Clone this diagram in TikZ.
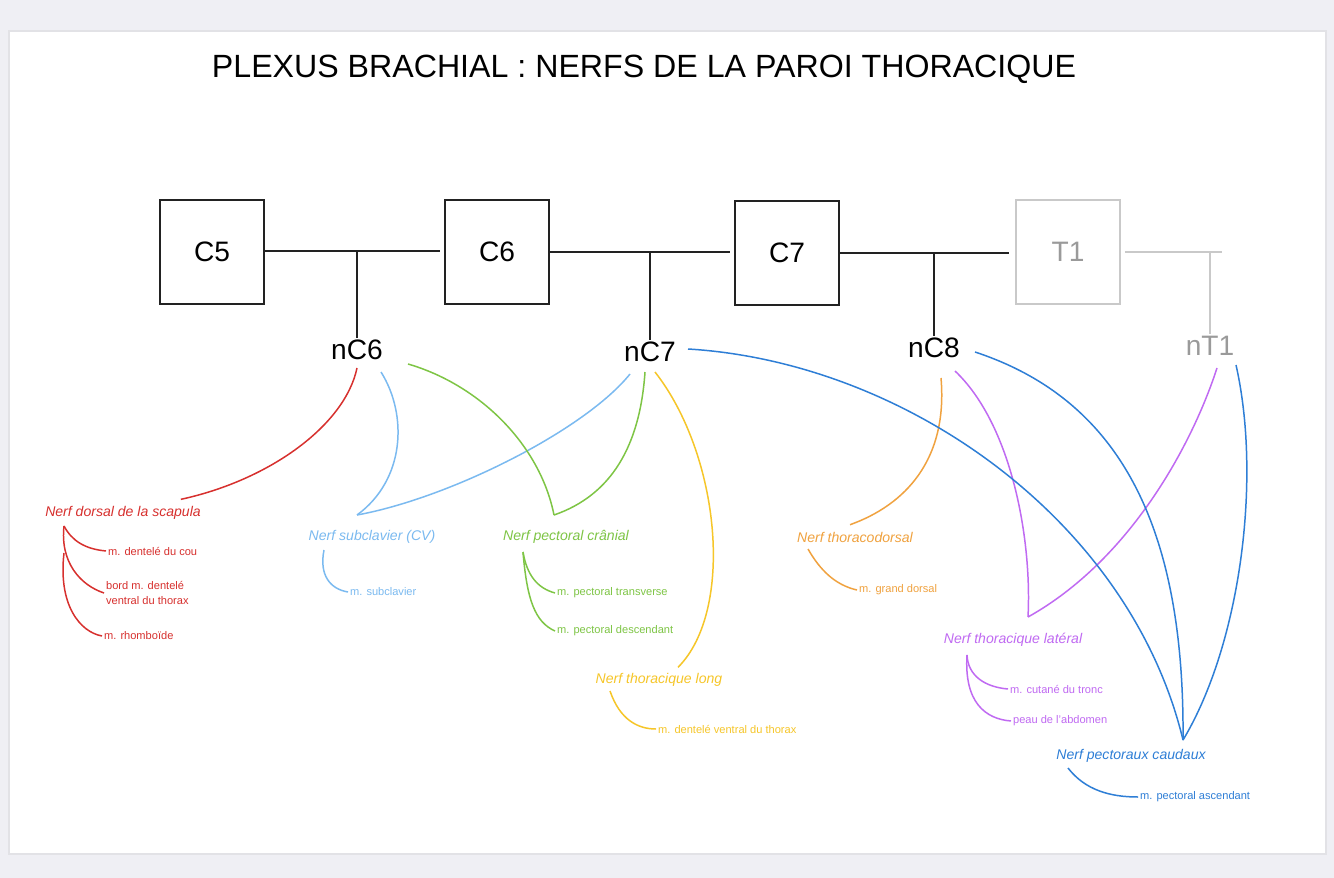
\documentclass[tikz,border=0pt]{standalone}
\usepackage{fontspec}
\setmainfont{Liberation Sans}
\usepackage{tikz}
\usetikzlibrary{calc}
\definecolor{Paper}{HTML}{EFEFF4}
\definecolor{Edge}{HTML}{E2E2E6}
\definecolor{Ink}{HTML}{222222}
\definecolor{Faded}{HTML}{C9C9C9}
\definecolor{FadedText}{HTML}{9A9A9A}
\definecolor{Dorsal}{HTML}{D7302E}
\definecolor{Subcl}{HTML}{7BBAF0}
\definecolor{Crani}{HTML}{7EC545}
\definecolor{Long}{HTML}{F6C629}
\definecolor{Thdors}{HTML}{F0A23F}
\definecolor{Lateral}{HTML}{C06AF2}
\definecolor{Caudal}{HTML}{2E7ED6}
\tikzset{
 vert/.style={draw=Ink, line width=1.1pt, minimum width=104*0.567pt, minimum height=104*0.567pt, font=\fontsize{16}{18}\selectfont},
 root/.style={font=\fontsize{16}{18}\selectfont, inner sep=1pt},
 trunk/.style={draw=Ink, line width=1.1pt},
 nerf/.style={font=\fontsize{8}{9.5}\selectfont\itshape, inner sep=1pt},
 muscle/.style={font=\fontsize{6.3}{8}\selectfont, anchor=west, inner sep=1pt, align=left},
 branch/.style={line width=0.85pt}
}
\begin{document}
\begin{tikzpicture}[x=0.02cm,y=-0.02cm]
\useasboundingbox (0,0) rectangle (1334,878);
\fill[Paper] (0,0) rectangle (1334,878);
\filldraw[fill=white,draw=Edge,line width=0.8pt] (9,31) rectangle (1326,854);

\node[font=\fontsize{18.3}{21}\selectfont] (title) at (644,69) {PLEXUS BRACHIAL : NERFS DE LA PAROI THORACIQUE};

% vertebres
\node[vert] (C5) at (212,252) {C5};
\node[vert] (C6) at (497,252) {C6};
\node[vert] (C7) at (787,253) {C7};
\node[vert,draw=Faded,text=FadedText] (T1) at (1068,252) {T1};

\node[root] (nC6) at (357,350) {nC6};
\node[root] (nC7) at (650,352) {nC7};
\node[root] (nC8) at (934,348) {nC8};
\node[root,text=FadedText] (nT1) at (1210,346) {nT1};

\coordinate (j6) at (357,251);
\coordinate (j7) at (650,252);
\coordinate (j8) at (934,253);
\coordinate (jT) at (1210,252);
\coordinate (endT) at (1222,252);

\draw[trunk] (C5.east |- j6) -- ($(C6.west |- j6)+(-4,0)$);
\draw[trunk] (C6.east |- j7) -- ($(C7.west |- j7)+(-4,0)$);
\draw[trunk] (C7.east |- j8) -- ($(T1.west |- j8)+(-6,0)$);
\draw[draw=Faded,line width=1.1pt] ($(T1.east |- endT)+(4,0)$) -- (endT);
\draw[trunk] (j6) -- (nC6);
\draw[trunk] (j7) -- (nC7);
\draw[trunk] (j8) -- (nC8);
\draw[draw=Faded,line width=1.1pt] (jT) -- (nT1);

% nerfs
\node[nerf,text=Dorsal] (dors) at (123,513) {Nerf dorsal de la scapula};
\node[nerf,text=Subcl] (subc) at (372,537) {Nerf subclavier (CV)};
\node[nerf,text=Crani] (cran) at (566,537) {Nerf pectoral crânial};
\node[nerf,text=Long] (long) at (659,680) {Nerf thoracique long};
\node[nerf,text=Thdors] (thd) at (855,537) {Nerf thoracodorsal};
\node[nerf,text=Lateral] (lat) at (1013,640) {Nerf thoracique latéral};
\node[nerf,text=Caudal] (caud) at (1131,756) {Nerf pectoraux caudaux};

\coordinate (vSub) at (357,515);
\coordinate (vCra) at (554,515);
\coordinate (vLat) at (1028,617);
\coordinate (vCau) at (1183,740);

\draw[branch,Dorsal] ($(nC6)+(0,18)$) .. controls (345,425) and (270,480) .. ($(dors.north east)+(-22,-5)$);
\draw[branch,Subcl] ($(nC6)+(24,22)$) .. controls (408,415) and (405,480) .. (vSub);
\draw[branch,Subcl] (vSub) .. controls (450,498) and (585,430) .. ($(nC7)+(-20,22)$);
\draw[branch,Crani] ($(nC6)+(51,14)$) .. controls (480,385) and (540,445) .. (vCra);
\draw[branch,Crani] ($(nC7)+(-5,20)$) .. controls (640,445) and (612,495) .. (vCra);
\draw[branch,Long] ($(nC7)+(5,20)$) .. controls (720,455) and (735,610) .. ($(long.north)+(19,-4)$);
\draw[branch,Thdors] ($(nC8)+(7,30)$) .. controls (948,460) and (905,505) .. ($(thd.north)+(-5,-5)$);
\draw[branch,Lateral] ($(nC8)+(21,23)$) .. controls (1012,425) and (1032,540) .. (vLat);
\draw[branch,Lateral] (vLat) .. controls (1130,560) and (1192,445) .. ($(nT1)+(7,22)$);
\draw[branch,Caudal] ($(nC7)+(38,-3)$) .. controls (905,362) and (1130,520) .. (vCau);
\draw[branch,Caudal] ($(nC8)+(41,4)$) .. controls (1105,395) and (1185,505) .. (vCau);
\draw[branch,Caudal] ($(nT1)+(26,19)$) .. controls (1262,480) and (1240,645) .. (vCau);

% muscles
\node[muscle,text=Dorsal] (dcou) at (106,551) {m. dentelé du cou};
\node[muscle,text=Dorsal] (dbord) at (104,593) {bord m. dentelé\\ventral du thorax};
\node[muscle,text=Dorsal] (drho) at (102,636) {m. rhomboïde};
\node[muscle,text=Subcl] (msub) at (348,592) {m. subclavier};
\node[muscle,text=Crani] (mtra) at (555,593) {m. pectoral transverse};
\node[muscle,text=Crani] (mdes) at (555,631) {m. pectoral descendant};
\node[muscle,text=Long] (mdvt) at (656,729) {m. dentelé ventral du thorax};
\node[muscle,text=Thdors] (mgd) at (857,590) {m. grand dorsal};
\node[muscle,text=Lateral] (mcut) at (1008,689) {m. cutané du tronc};
\node[muscle,text=Lateral] (mpea) at (1011,721) {peau de l'abdomen};
\node[muscle,text=Caudal] (masc) at (1138,797) {m. pectoral ascendant};

\coordinate (rD) at (64,526);
\coordinate (rD2) at (64,553);
\coordinate (rS) at (324,550);
\coordinate (rC) at (523,552);
\coordinate (rL) at (610,691);
\coordinate (rT) at (808,549);
\coordinate (rA) at (967,655);
\coordinate (rP) at (1068,768);

\draw[branch,Dorsal] (rD) .. controls (72,541) and (85,549) .. (dcou.west);
\draw[branch,Dorsal] (rD) .. controls (60,562) and (80,585) .. (dbord.west);
\draw[branch,Dorsal] (rD2) .. controls (58,605) and (80,632) .. (drho.west);
\draw[branch,Subcl] (rS) .. controls (319,575) and (330,589) .. (msub.west);
\draw[branch,Crani] (rC) .. controls (527,575) and (537,588) .. (mtra.west);
\draw[branch,Crani] (rC) .. controls (527,600) and (535,622) .. (mdes.west);
\draw[branch,Long] (rL) .. controls (620,720) and (638,729) .. (mdvt.west);
\draw[branch,Thdors] (rT) .. controls (820,570) and (835,585) .. (mgd.west);
\draw[branch,Lateral] (rA) .. controls (968,676) and (985,687) .. (mcut.west);
\draw[branch,Lateral] (rA) .. controls (964,702) and (985,719) .. (mpea.west);
\draw[branch,Caudal] (rP) .. controls (1085,790) and (1110,797) .. (masc.west);
\end{tikzpicture}
\end{document}
